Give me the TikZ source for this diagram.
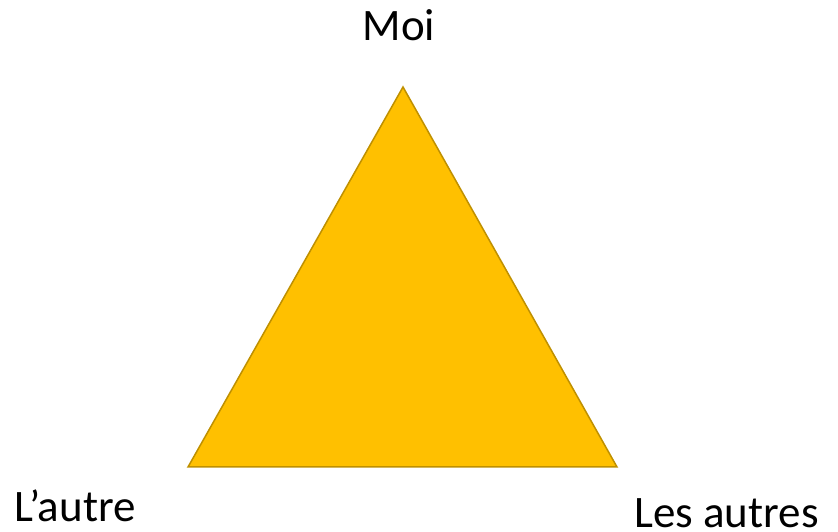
\documentclass[tikz,border=0pt]{standalone}
\usepackage{fontspec}
\setmainfont{Carlito}
\definecolor{trifill}{HTML}{FFC000}
\definecolor{triline}{HTML}{BF9000}
\begin{document}
\begin{tikzpicture}[x=1pt,y=1pt,
  lbl/.style={font=\fontsize{45}{50}\selectfont, inner sep=0pt, text=black}]
\useasboundingbox (0,0) rectangle (838,532);
\coordinate (top) at (403,445);
\coordinate (bl) at (188,65);
\coordinate (br) at (617,65);
\draw[fill=trifill, draw=triline, line width=1.5pt, line join=miter] (top) -- (bl) -- (br) -- cycle;
\node[lbl, anchor=base] (moi) at (399,491) {Moi};
\node[lbl, anchor=base west] (lautre) at (14,10) {L’autre};
\node[lbl, anchor=base west] (lesautres) at (634,4) {Les autres};
\end{tikzpicture}
\end{document}
